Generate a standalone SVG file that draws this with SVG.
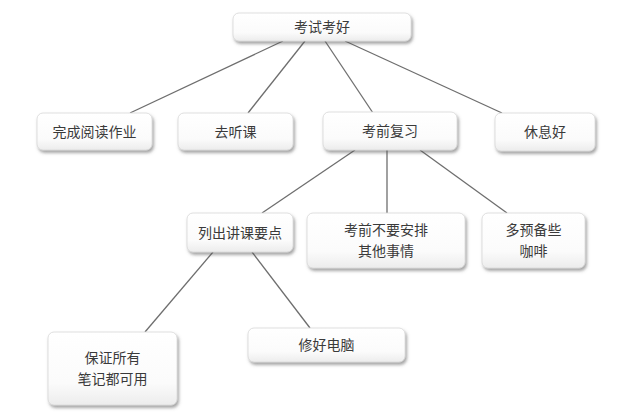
<svg xmlns="http://www.w3.org/2000/svg" width="640" height="418" viewBox="0 0 640 418">
<style>
.box{fill:url(#g);stroke:#d8d8d8;stroke-width:0.8;filter:url(#sh)}
.t{font-family:"Noto Sans CJK SC","Noto Sans",sans-serif;font-size:14px;fill:#3a3a3a;text-anchor:middle}
.c line{stroke:#6e6e6e;stroke-width:1.3}
</style>
<defs>
<linearGradient id="g" x1="0" y1="0" x2="0" y2="1">
<stop offset="0" stop-color="#ffffff"/>
<stop offset="0.7" stop-color="#fbfbfb"/>
<stop offset="1" stop-color="#ececec"/>
</linearGradient>
<filter id="sh" x="-10%" y="-20%" width="125%" height="150%">
<feDropShadow dx="1.5" dy="2.5" stdDeviation="1.5" flood-color="#555" flood-opacity="0.55"/>
</filter>
</defs>
<rect width="640" height="418" fill="#fff"/>
<g class="c" id="connectors">
<line x1="283" y1="41" x2="130" y2="113"/>
<line x1="305" y1="41" x2="248" y2="113"/>
<line x1="325" y1="41" x2="373" y2="113"/>
<line x1="345" y1="41" x2="502" y2="113"/>
<line x1="355" y1="150" x2="262" y2="213"/>
<line x1="387" y1="150" x2="387" y2="213"/>
<line x1="420" y1="150" x2="507" y2="213"/>
<line x1="213" y1="252" x2="145" y2="332"/>
<line x1="252" y1="252" x2="310" y2="328"/>
</g>
<g id="n1"><rect class="box" x="233" y="13" width="178" height="28" rx="6"/><text class="t" x="322" y="32">考试考好</text></g>
<g id="n2"><rect class="box" x="37" y="113" width="115" height="37" rx="6"/><text class="t" x="94.5" y="136.5">完成阅读作业</text></g>
<g id="n3"><rect class="box" x="178" y="113" width="115" height="37" rx="6"/><text class="t" x="235.5" y="136.5">去听课</text></g>
<g id="n4"><rect class="box" x="323" y="112" width="134" height="38" rx="6"/><text class="t" x="390" y="136">考前复习</text></g>
<g id="n5"><rect class="box" x="495" y="113" width="100" height="38" rx="6"/><text class="t" x="545" y="137">休息好</text></g>
<g id="n6"><rect class="box" x="187" y="213" width="106" height="39" rx="6"/><text class="t" x="240" y="237.5">列出讲课要点</text></g>
<g id="n7"><rect class="box" x="307" y="213" width="158" height="55" rx="6"/><text class="t" x="386" y="235">考前不要安排</text><text class="t" x="386" y="256">其他事情</text></g>
<g id="n8"><rect class="box" x="482" y="213" width="103" height="55" rx="6"/><text class="t" x="533.5" y="235">多预备些</text><text class="t" x="533.5" y="256">咖啡</text></g>
<g id="n9"><rect class="box" x="48" y="332" width="129" height="73" rx="6"/><text class="t" x="112.5" y="363">保证所有</text><text class="t" x="112.5" y="384">笔记都可用</text></g>
<g id="n10"><rect class="box" x="248" y="328" width="157" height="34" rx="6"/><text class="t" x="326.5" y="349.5">修好电脑</text></g>
</svg>
